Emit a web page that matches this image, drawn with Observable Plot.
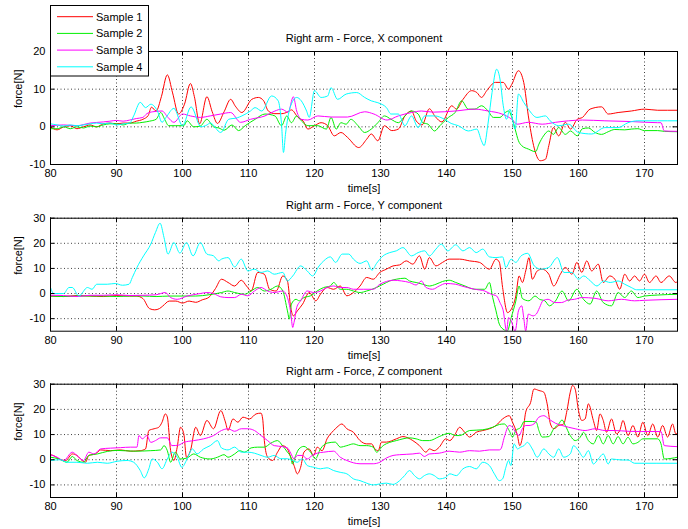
<!DOCTYPE html>
<html><head><meta charset="utf-8">
<script src="https://cdn.jsdelivr.net/npm/d3@7"></script>
<script src="https://cdn.jsdelivr.net/npm/@observablehq/plot@0.6"></script>
<style>
body{margin:0;background:#fff;}
#chart{position:relative;width:688px;height:529px;font-family:"Liberation Sans",Arial,sans-serif;overflow:hidden;}
#chart > .pnl{position:absolute;left:0;}
#legend{position:absolute;left:0;top:0;}
</style></head><body><div id="chart"></div>
<script>
const seriesNames = ["Sample 1", "Sample 2", "Sample 3", "Sample 4"];
const seriesColors = ["#ff0000", "#00f000", "#ff00ff", "#00ffff"];
const titles = ["Right arm - Force, X component", "Right arm - Force, Y component", "Right arm - Force, Z component"];
const xTicks = [80, 90, 100, 110, 120, 130, 140, 150, 160, 170];
const yTicksX = [-10, 0, 10, 20];
const yTicksYZ = [-10, 0, 10, 20, 30];
const xLabel = "time[s]";
const yLabel = "force[N]";

// ---- X component ----
const xS1 = [[80,0],[81,-0.8],[82,0],[83,0.3],[84,-0.5],[85,0],[86,0.5],[87,0],[88,0.8],[89,1],[90,0.8],[91,1],[92,1],[93,1.5],[94,2],[94.8,3],[95.3,5.2],[96,4.2],[96.8,8],[97.7,13.8],[98.5,9],[99.4,3.4],[100.3,6],[101.2,11.5],[101.8,8],[102.6,0.8],[103.7,8],[104.5,4],[105.3,0.9],[106.3,4],[107.3,7.3],[108,5.5],[109,3.8],[110.5,7.3],[111.5,7.8],[112.3,6.9],[113,4.2],[114,3.5],[115,3.5],[116,4],[116.5,4.5],[117.5,2.5],[118.3,1.5],[119,-0.6],[120,0.3],[121,1.1],[122,0.3],[123,-2.4],[124,-1.5],[125,-2.8],[126.7,-5.5],[127.9,-3.3],[128.6,-1.9],[129.6,-3.7],[130.6,0.3],[131.7,-1],[132.7,-0.6],[133.7,2.9],[134.7,4.2],[135.4,1.6],[136.3,0.5],[137.4,4.8],[138.3,2.7],[139.3,1.3],[140.8,5.6],[141.5,4.7],[142.5,7.3],[143.8,9.6],[144.6,9.1],[145.3,7.8],[146.1,9.6],[147.4,11.8],[148.6,11.8],[149.4,10],[149.9,11.3],[150.9,14.9],[151.7,11.8],[152.4,2.9],[153.2,-5],[154.2,-9],[155,-8.6],[155.5,-5],[156.2,-0.2],[157,-2.4],[158,1.2],[158.8,-0.6],[159.8,2],[160.6,2.5],[161.75,4.7],[163.5,5.3],[164.5,3.4],[166,3.8],[168,4.2],[170,4.7],[172,4.4],[175,4.4]];
const xS2 = [[80,-0.5],[81,-0.5],[82,0],[83,-0.5],[84,0],[85,-0.3],[86,0.2],[87,0],[88,0.5],[89,0.8],[90,0.8],[91,0.5],[92,1],[93,1],[94,1.2],[95,1.5],[96,2],[96.7,3.8],[97.3,2],[97.9,0.3],[99,0.3],[100.2,0.3],[100.7,1.6],[101.7,0],[102.7,0.2],[103.7,2],[104.7,0],[105.5,-0.3],[106.3,-0.9],[107.5,0.5],[108.5,-1],[109.5,0.3],[111,2],[112.5,3.4],[114,2.9],[115,0.3],[115.8,2.9],[116.5,1.1],[117.3,2.9],[118,1.6],[119,0.3],[120.5,0.3],[121.8,-0.6],[122.5,2.5],[123.3,-0.6],[124,1.1],[124.8,0.7],[125.5,2],[126.6,0.3],[127.6,-1.5],[128.6,-0.6],[129.6,1.1],[130.6,2.9],[131.6,2],[132.7,1.1],[133.7,2.9],[134.7,4.2],[135.7,3.4],[136.4,1.1],[137.2,0.7],[138.2,-1.1],[139,0.3],[140.3,2.5],[141.3,3.8],[142.3,6.9],[143.3,4.7],[144.3,4.7],[145.3,5.6],[146.3,4.2],[147.1,2.5],[148.1,2.5],[148.9,3.8],[149.4,4.2],[149.9,2.5],[150.4,-0.6],[150.9,-3.7],[151.4,-5],[152.4,-5.9],[153.5,-6.6],[154,-4.6],[154.7,-2.4],[155.5,-1.1],[156.2,-2],[157,-0.2],[158,-2],[158.8,-1.1],[159.8,-2.4],[160.6,-0.5],[161.5,-0.3],[162.5,-1.5],[163.5,-2],[164.5,-1.3],[165.5,-0.7],[167,-0.8],[168,-0.6],[169,-0.5],[170,-1],[172,-1],[173,-1.2],[175,-1.3]];
const xS3 = [[80,0.3],[82,0.5],[84,0.3],[86,1],[88,1.3],[89,1.5],[90,1.7],[91,1.5],[92,1.8],[93,2.2],[94,2.5],[94.6,3.5],[95.5,4],[96.9,4.2],[97.8,2.5],[98.7,1.2],[100,3.4],[101.2,2.9],[102.7,2.5],[104.2,2.9],[105.8,3.4],[107.3,3.8],[108.8,1.2],[110.3,2],[112.5,2.9],[114,4.2],[115,4.7],[116,3.9],[116.8,8],[117.3,4.2],[118,2],[119,1.8],[120.5,2.9],[122.5,2.6],[125,2.6],[127.6,4],[129,3.4],[131,1.8],[132.7,2.9],[134.7,3.8],[136.2,4.2],[138,3.9],[141.3,4.2],[144.3,4.7],[146.3,4.2],[148.4,3.4],[149.9,2],[150.7,0.7],[152.4,1.2],[154.5,0.7],[156.5,1.2],[158.5,1.6],[160.6,1.8],[164,1.6],[168,1.4],[172,1.1],[172.5,1.1],[173,-1.1],[175,-1.2]];
const xS4 = [[80,0.8],[81,0.5],[82,0.2],[83,0.5],[84,0.3],[85,0.5],[86,0.8],[87,1],[88,0.8],[89,1],[90,0.5],[91,0.8],[92,1],[92.6,2.9],[93.6,6.5],[94.4,5.1],[95.2,6],[96.2,4.2],[96.9,1.2],[97.5,2.5],[98.7,4.9],[100,0.3],[101.3,5.3],[102.8,0],[103.7,0.5],[104.2,1],[105.8,-1.5],[107,2],[108.3,2.4],[109,2.9],[110.3,4.2],[111,5.1],[112,4.2],[113.5,8.2],[114.5,6.9],[115,0.8],[115.3,-6.8],[115.6,-2],[116.3,5.1],[117.3,7.8],[118,6.9],[118.8,4.2],[119.2,2.5],[120,9.6],[121,7.8],[122,8.2],[122.5,10.4],[123.5,7.3],[124.8,8.7],[126.4,9.1],[127.6,7.8],[128.6,6.9],[129.6,6.4],[130.9,5.1],[131.6,3.4],[132.7,3.4],[133.7,0.3],[134.7,2.9],[135.7,-0.2],[136.7,2.9],[138.2,2.9],[139.7,2],[140.7,0.9],[141.8,0.3],[143.3,-1.1],[144.6,-0.6],[145.3,-3.7],[145.7,-5],[146.3,1],[146.9,9.1],[147.6,15.3],[148.1,12.7],[148.6,5.6],[149.1,2],[149.6,4.7],[150.4,-0.6],[150.9,8.7],[151.7,6.5],[152.4,4.7],[153.7,2.5],[155,2.9],[155.7,1.6],[157,0.3],[158.5,0.7],[160,-1.5],[162,-1.9],[164,-0.2],[166,-0.2],[167.5,1.1],[169,1.6],[172,1.6],[175,1.6]];

// ---- Y component ----
const yS1 = [[80,-1],[82,-1.2],[84,-0.8],[86,-1],[88,-1.2],[90,-0.8],[92,-1],[93,-1],[94,-2],[95,-6],[95.8,-6.5],[96.5,-6],[97,-5],[98,-3],[99,-3],[100,-3.8],[101,-3],[102,-3.5],[103,-2.5],[104,-1.5],[105,2],[105.9,5.7],[106.9,4.4],[107.9,3],[108.9,5.3],[109.7,3],[110.4,1],[111.4,8.4],[112.4,7.7],[113.2,1.7],[114.2,1],[115.2,7],[115.9,5],[116.4,-5.6],[116.8,-8.9],[117.4,-6.9],[118.2,-4.2],[119.2,0.4],[120.2,-2.9],[120.9,-0.3],[121.9,2.4],[122.9,1.7],[123.9,3],[124.9,-0.9],[125.9,0.4],[126.9,3],[127.9,6.4],[128.9,5.7],[129.9,8.4],[130.9,9.7],[131.9,11],[132.9,11.4],[133.9,13],[134.9,11.7],[135.9,15],[136.7,9.7],[137.4,14.3],[138.4,11],[139.4,12.4],[140.4,13.7],[142,13.7],[143.5,13],[145,12.4],[146.5,9.7],[147.5,13.7],[148,12.5],[148.5,2.4],[149.25,-7.6],[149.75,-6.5],[150.5,-1],[151,7],[151.5,4.4],[152,9],[152.5,14.3],[153,5.7],[153.75,9],[154.5,9.7],[155.5,7.7],[156.25,3],[157.25,7.7],[158,10.4],[159,7.7],[159.75,12.4],[160.5,8.4],[161.25,13],[162,9],[163,11.7],[163.75,4.4],[164.75,7],[165.5,5.7],[166.25,1.7],[167,7.7],[167.75,5],[168.5,7],[169.25,5],[170,7.7],[170.75,4.4],[171.75,7],[172.5,4.4],[173.75,7],[174.75,4.4],[175,4.8]];
const yS2 = [[80,-1],[82,-1.2],[84,-1],[86,-1],[88,-1],[90,-1.2],[92,-1],[94,-1],[96,-1.2],[98,-1],[100,-1],[102,-1],[104,-0.5],[105.9,0.4],[106.9,1],[107.9,0.4],[109.4,-0.3],[110.4,1],[111.4,2.4],[112.4,1],[113.4,1.7],[114.4,3],[115.2,1],[115.9,-6.9],[116.2,-10.2],[116.5,-4.2],[117.2,-2.3],[117.7,-2.9],[118.4,-1.6],[119.4,-0.9],[120.4,1],[121.4,2.4],[122.4,3],[122.9,4.4],[123.9,1.7],[124.9,1.7],[125.9,1],[126.9,0.4],[127.9,1],[129.4,2.4],[130.4,3.7],[131.4,5],[132.4,5.7],[133.7,6.1],[134.4,5],[135.4,4.4],[136.4,3.7],[137.4,3],[138.4,3.7],[139.4,4.8],[140.4,5.3],[141.4,4.4],[142.8,3],[144.3,1.7],[145.8,1.7],[146.5,4.4],[147,-1.6],[147.5,-6.9],[148,-12.2],[148.75,-14.5],[149.2,-15],[149.8,-9.6],[150.5,-3],[151,3],[151.5,-2],[152.5,-2.9],[153.4,-1],[154.1,-2.3],[154.9,-2.9],[155.6,-4.9],[156.5,-3],[157.5,1],[158.5,-2.9],[159.75,1.7],[160.75,-2.3],[161.75,-4.2],[162.75,1],[163.75,-3.6],[165,-4.9],[166,0.4],[167,-1.6],[168,1],[169,-1.6],[170,-1],[172,-0.6],[175,-0.3]];
const yS3 = [[80,-0.7],[82,-0.8],[84,-1.2],[86,-0.7],[88,-0.7],[90,-0.5],[92,-0.8],[94,-0.7],[96,-0.5],[97.4,0.4],[98.2,-1.6],[99.2,-2.3],[100.7,-1],[102.7,0],[103.7,0.4],[104.7,0],[105.8,-1.3],[106.9,-1.6],[107.9,-1.6],[108.9,-0.3],[109.9,-0.9],[110.9,1],[111.9,2.4],[112.9,1],[113.9,0.4],[115.2,1],[115.9,-1.6],[116.4,-7.6],[116.7,-13.5],[116.9,-11.5],[117.3,-5.6],[117.9,-2.9],[118.9,1],[119.9,0.4],[120.9,1],[121.9,2.4],[122.9,3],[123.9,2.4],[124.9,2.4],[125.9,1.7],[127.4,1.7],[128.9,1.7],[129.9,3.7],[130.9,4.8],[131.9,5.3],[133.2,5],[134.4,4.4],[135.4,3.4],[136.2,5],[136.9,2.4],[137.9,1.7],[138.9,3],[139.9,4],[141.4,3.7],[142.3,3],[144.3,1.7],[145.8,1],[146.8,-0.3],[147.6,-1],[148.1,-3.6],[148.6,-6.9],[149.1,-15],[149.4,-9.6],[149.8,-10.9],[150.4,-15],[150.9,-6.9],[151.4,-4.9],[151.7,-9.6],[152,-14.9],[152.4,-8.2],[153.1,-8.9],[153.6,-8.2],[154.1,-5.6],[154.6,-2.9],[155.4,-2.3],[156.4,-3.6],[157.4,-3.6],[158.4,-2.6],[159.4,-2.3],[160.5,-1.6],[162.5,-1.9],[164.5,-2.9],[166.5,-2.3],[168.5,-2.9],[170,-2.7],[175,-2.3]];
const yS4 = [[80,2.4],[80.5,0],[82,0],[82.8,2.4],[83.3,2.4],[84.3,-1],[85.6,2.4],[86.3,1.7],[87,3.7],[88.6,3.7],[89.8,4],[90.9,3.3],[91.9,3.7],[92.4,6.4],[93.1,10.4],[94.1,15],[95.2,19.7],[95.9,24.3],[96.6,28],[97.2,22.3],[97.8,15.7],[98.7,20.3],[99.6,16.1],[100.6,20.3],[101.6,15],[102.7,20.3],[103.7,15.7],[104.7,15],[105.5,13],[105.9,13.7],[106.9,14.3],[107.9,10.6],[108.9,13.7],[109.9,9],[110.9,9.7],[111.9,8.4],[112.9,9],[113.9,7.7],[115.2,8.4],[115.9,5],[116.7,7],[117.9,11],[118.9,9],[119.7,7],[120.7,11],[121.4,13],[122.4,14.6],[123.2,12.4],[124.2,15.7],[125.2,15.7],[125.9,13.7],[126.9,12],[127.9,13],[128.7,9.3],[129.4,12],[130.4,15],[131.4,16.3],[132.4,17],[133.4,18.3],[134.7,15],[135.7,16.3],[136.7,17],[137.4,15],[138.4,17.7],[139.2,19.7],[140.2,17],[141.4,19.4],[142.5,17],[143.5,18.3],[144.5,16.3],[145.5,17.7],[146.5,14.6],[147.5,14.3],[148.5,14.6],[149,10.4],[149.8,13.7],[150.5,12.4],[151.3,15],[152.3,16],[153.3,11],[154.3,9.7],[155.5,10.4],[156.8,14.3],[157.8,8.4],[159,8.4],[160,5.7],[160.8,7],[161.8,5],[162.8,3],[163.8,5],[164.8,4.4],[166,5],[167,3.7],[168,2.4],[168.8,1.5],[175,1.5]];

// ---- Z component ----
const zS1 = [[80,2],[80.5,1.6],[81.3,0.3],[82.3,-0.3],[83.3,2.3],[84,1.7],[84.8,-0.3],[85.3,-1],[85.8,1.7],[86.8,2.3],[87.6,3.9],[89.1,3.6],[90.6,3.9],[92.1,3.4],[93.6,3.6],[94.4,4.3],[94.9,11.6],[95.7,12.3],[96.4,12.9],[96.9,14.9],[97.4,18.2],[97.7,17],[98.2,3.6],[98.7,-0.3],[99.2,5],[99.7,12.9],[100.2,10.3],[100.6,1],[101.2,3.6],[102,12.9],[102.7,9.6],[103.7,15.6],[104.7,12.3],[105.8,19.5],[106.5,15],[106.9,11.6],[107.65,16.2],[108.4,14.9],[109.15,16.9],[110.15,16.2],[111.15,18.2],[111.9,18.5],[112.15,16.2],[112.4,7.6],[112.9,1],[113.65,-0.3],[114.4,3],[115.15,5.6],[115.9,4.3],[116.4,1],[116.9,-2.3],[117.4,-5.6],[117.9,-3],[118.4,3],[119.15,4.3],[119.9,1.7],[120.4,5],[121.15,3.6],[121.9,8.3],[122.9,11.6],[123.4,12.9],[124.15,14.2],[124.9,12.3],[125.9,10.9],[126.9,7.6],[127.9,6.3],[128.65,6.3],[129.15,4.3],[129.65,3.6],[130.15,7],[130.9,7],[132.4,8.3],[133.4,9.2],[134.9,7.6],[135.9,5.6],[136.9,3],[137.4,4.3],[138.15,3.6],[138.9,5],[139.9,8.3],[140.5,7.6],[141.25,9.9],[142,12.9],[142.75,10.9],[143.5,9],[144.5,10.9],[145.5,11.6],[146.5,12.3],[147.5,13.6],[148.5,16.2],[149.5,17.5],[150,14.9],[150.75,9.6],[151.1,5.6],[151.5,8.9],[152,18.9],[152.75,22.8],[153.25,28.1],[154,27.5],[154.75,26.8],[155.25,22.2],[155.75,14.2],[156.25,12.3],[157,13.6],[157.75,14.2],[158.25,19.5],[158.75,26.8],[159.1,29.5],[159.5,28],[160,19.5],[160.5,15.6],[161,16.2],[161.5,22.2],[162.25,15.6],[162.75,11.6],[163.25,18.2],[163.75,15.6],[164.25,10.9],[165,16.2],[165.75,10.3],[166.25,11.6],[166.75,15.6],[167.5,9.6],[168.25,13.6],[169,9],[169.75,14.9],[170.5,9.6],[171.25,14.2],[172,9],[172.75,13.6],[173.5,9],[174.25,14.2],[174.75,10.3],[175,10.5]];
const zS2 = [[80,1],[81.3,0.3],[82.5,-1],[83.3,1.3],[84,-0.3],[85,-1],[85.8,1.7],[87.1,2.3],[88.6,3.3],[90.1,3.7],[92.6,3.4],[95.2,3.6],[96.7,3.9],[97.2,5.6],[97.7,3.6],[98.2,-1],[98.9,3],[99.7,0.3],[100.7,0.7],[101.7,2.3],[102.7,1],[104.2,0.3],[105.3,1],[106.3,2],[106.9,1],[107.9,2.3],[108.65,3.6],[109.4,3],[110.4,4.7],[111.4,5],[112.4,5],[113.4,6.6],[114.4,7.6],[115.15,5.6],[115.9,3],[116.4,1],[116.65,-1.7],[117.15,1.7],[117.65,4.3],[118.4,5.3],[119.4,3],[120.15,0.4],[120.9,4.3],[121.9,6.6],[123.15,7],[123.9,5],[124.9,5.6],[125.9,6.3],[126.9,5.6],[127.9,5.6],[128.9,5],[129.4,3],[130.4,5.6],[131.4,6.9],[132.4,7.6],[133.4,8.3],[134.4,8.7],[135.4,8.3],[136.4,7.6],[137.4,7.6],[138.9,9.2],[140.4,10.5],[141.4,9.6],[142,9.6],[143.5,11.6],[145.5,11.9],[147,12.9],[148,14],[148.75,14.2],[149.5,11.6],[150,9],[150.5,11.6],[151.25,12.9],[151.75,15.2],[153,15.2],[153.6,14.9],[154,11.6],[154.5,9],[155.5,9.2],[156.25,12.3],[157,14.2],[157.5,15.8],[158,13.6],[158.75,9.6],[159.5,7.6],[160.25,8.9],[160.75,10.9],[161.5,7.6],[162.25,6.3],[163,9.6],[163.75,6.3],[164.5,9.6],[165.25,6.3],[166,9.2],[166.75,6.3],[167.5,8.9],[168.25,6.3],[169,6.9],[169.75,8.3],[172,8.3],[172.5,6.3],[173,0.3],[175,1]];
const zS3 = [[80,2],[81,1],[82,-0.3],[83.3,3],[84,1.7],[85,-0.3],[85.8,3],[86.6,2.3],[87.6,4.3],[89.1,4.6],[90.6,4.8],[92.1,5],[93.1,5],[93.4,9.6],[93.9,8.3],[94.6,9.6],[95.2,6.9],[95.9,7.6],[96.7,8.7],[97.7,8.7],[98.4,5.6],[99.4,5.8],[100.2,6.9],[101.7,7.6],[103.2,8.3],[104.7,9.6],[105.9,11.6],[106.9,12.3],[107.9,11.3],[108.9,12.3],[109.9,12.3],[110.9,11.6],[111.9,9.6],[112.9,7.6],[113.9,5.6],[115.15,5.2],[115.9,4.7],[116.4,2.6],[116.9,0.3],[117.4,1.7],[118.15,1.7],[118.9,0.3],[119.65,1.7],[120.4,2.6],[121.4,3],[122.9,3.4],[123.9,1],[124.9,-0.3],[126.9,-1.6],[128.9,-1.6],[129.9,-1],[130.9,0.7],[131.9,1.7],[132.9,2],[134.9,2.3],[135.9,2.6],[136.65,1.3],[137.4,2.3],[138.9,2.6],[140.4,3.4],[142,3],[143.5,3.6],[145,3.4],[146.5,3.9],[148,3.9],[148.25,4.3],[148.75,8.9],[149.5,13.6],[150,12.9],[150.5,10.9],[151,9.6],[151.5,12.3],[152,13.6],[152.5,13.6],[153.25,14.2],[154,16.9],[154.75,17.5],[155.5,16.2],[156.5,14.5],[157.5,13.6],[158.5,12.9],[159.5,12.3],[161,11.6],[162.5,12.3],[164,11.6],[165.5,11.6],[167.5,11.3],[169.5,11.2],[172.5,11.2],[173,5.6],[175,5.2]];
const zS4 = [[80,-0.3],[81.5,0],[82.5,-1],[84,-1],[85.6,-1.4],[87.1,-1],[88.6,-1.4],[90.1,-0.6],[91.6,-0.3],[92.6,-1],[93.6,-4.3],[94.2,-7.2],[94.9,-3.6],[95.4,0.3],[96.2,-1],[96.9,-3.6],[97.7,0.3],[98.4,3],[99.2,1],[99.9,-3],[100.7,0.3],[101.5,4.3],[102.2,2.3],[103.2,4.3],[104.2,5.6],[105.3,7.6],[105.9,4.7],[106.9,3.9],[107.9,5],[108.9,3],[109.9,3],[110.9,2.6],[111.9,1.7],[112.9,1],[113.9,1.7],[114.9,0.4],[115.9,0.4],[116.65,-0.3],[117.4,-1],[118.15,0.4],[118.9,-2.3],[119.9,-3],[120.9,-3.6],[121.9,-3.2],[122.9,-4.3],[123.9,-5],[124.9,-5.6],[125.9,-7.6],[126.9,-8.3],[127.9,-9.3],[128.9,-10],[129.9,-9.6],[130.9,-9.3],[131.9,-9.8],[132.9,-8.3],[133.65,-6.3],[134.4,-4.3],[135.15,-6.3],[135.9,-7.6],[136.65,-6.3],[137.4,-5.6],[138.15,-6.3],[138.9,-7.6],[139.9,-7],[140.5,-5.6],[141.5,-6.3],[142.5,-3.6],[143.5,-2.7],[144.5,-3.6],[145.5,-1],[146.5,-2.3],[147.25,-5.6],[148,-8.3],[148.5,-7.6],[149,-3],[149.4,-0.3],[149.75,-2.3],[150.25,6.3],[150.75,4.3],[151.25,5],[151.75,5.6],[152.25,6.9],[153,4.3],[153.75,1],[154.75,4.3],[155.5,2.3],[156.25,1],[157,4.3],[157.75,1],[158.75,2.3],[159.25,5.6],[160,3.6],[160.75,1],[161.5,3.6],[162.25,-1.7],[163,0.3],[163.75,2.3],[164.5,-1.7],[165,0.3],[166.5,-0.1],[167.5,-0.1],[168.5,-1.4],[175,-1.4]];

const FONT = '"Liberation Sans", Arial, Helvetica, sans-serif';
const W = 688, ML = 50, MR = 11;

function panel(series, title, yDomain, yTicks, top, height, mt, mb) {
  const pw = W - ML - MR, ph = height - mt - mb, tk = 4.5;
  const fmt = d => String(d);
  const marks = [
    Plot.ruleX(xTicks, {x: d => d, stroke: "#000", strokeOpacity: 0.75, strokeDasharray: "1,2.5"}),
    Plot.ruleY(yTicks, {y: d => d, stroke: "#000", strokeOpacity: 0.75, strokeDasharray: "1,2.5"}),
    ...series.map((s, i) => Plot.line(s, {x: d => d[0], y: d => d[1], stroke: seriesColors[i], strokeWidth: 1, curve: "monotone-x", clip: true})),
    Plot.tickX(xTicks, {x: d => d, insetTop: ph - tk, stroke: "#000"}),
    Plot.tickX(xTicks, {x: d => d, insetBottom: ph - tk, stroke: "#000"}),
    Plot.tickY(yTicks, {y: d => d, insetRight: pw - tk, stroke: "#000"}),
    Plot.tickY(yTicks, {y: d => d, insetLeft: pw - tk, stroke: "#000"}),
    Plot.frame({stroke: "#000"}),
    Plot.text([title], {text: d => d, frameAnchor: "top", dy: -13, lineAnchor: "middle", fontSize: 11, fill: "#000"}),
    Plot.text([xLabel], {text: d => d, frameAnchor: "bottom", dy: 24, lineAnchor: "middle", fontSize: 11, fill: "#000"}),
    Plot.text([yLabel], {text: d => d, frameAnchor: "left", dx: -32, rotate: -90, lineAnchor: "middle", fontSize: 11, fill: "#000"})
  ];
  const svg = Plot.plot({
    width: W, height,
    marginLeft: ML, marginRight: MR, marginTop: mt, marginBottom: mb,
    style: {fontFamily: FONT, fontSize: "11px", background: "white", color: "#000", overflow: "visible"},
    x: {domain: [80, 175], ticks: xTicks, tickSize: 0, tickPadding: 5, tickFormat: fmt, label: null},
    y: {domain: yDomain, ticks: yTicks, tickSize: 0, tickPadding: 5, tickFormat: fmt, label: null},
    marks
  });
  const wrap = document.createElement("div");
  wrap.className = "pnl";
  wrap.style.top = top + "px";
  wrap.appendChild(svg);
  document.getElementById("chart").appendChild(wrap);
}

panel([xS1, xS2, xS3, xS4], titles[0], [-10, 20], yTicksX, 0, 195, 51, 31);
panel([yS1, yS2, yS3, yS4], titles[1], [-15, 30], yTicksYZ, 195, 166, 22.7, 30.3);
panel([zS1, zS2, zS3, zS4], titles[2], [-15, 30], yTicksYZ, 361, 168, 22.7, 32);

// legend overlay
const leg = d3.select("#chart").append("svg").attr("id", "legend")
  .attr("width", 160).attr("height", 80).style("font-family", FONT);
leg.append("rect").attr("x", 50.5).attr("y", 5.5).attr("width", 98).attr("height", 70.5)
  .attr("fill", "#fff").attr("stroke", "#000");
const rows = leg.selectAll("g").data(seriesNames).join("g")
  .attr("transform", (d, i) => `translate(0,${16.7 + i * 16.7})`);
rows.append("line").attr("x1", 57).attr("x2", 93).attr("y1", 0).attr("y2", 0)
  .attr("stroke", (d, i) => seriesColors[i]).attr("stroke-width", 1);
rows.append("text").attr("x", 96).attr("y", 0).attr("dy", "0.35em")
  .attr("font-size", 11).attr("fill", "#000").text(d => d);
</script>
</body></html>
